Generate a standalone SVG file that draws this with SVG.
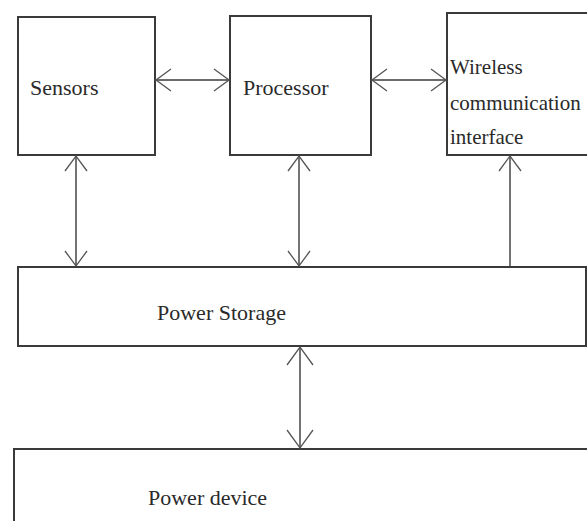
<svg xmlns="http://www.w3.org/2000/svg" width="587" height="521" viewBox="0 0 587 521">
<style>
.box{fill:#fff;stroke:#3a3a3a;stroke-width:2}
.lbl{font-family:"Liberation Serif","Times New Roman",serif;font-size:22px;fill:#2a2a2a}
.sm{font-size:21px}
.ln{fill:none;stroke:#3a3a3a;stroke-width:1.4}
</style>
<defs>
<marker id="a" markerUnits="userSpaceOnUse" markerWidth="40" markerHeight="40" viewBox="-20 -20 40 40" refX="0" refY="0" orient="auto-start-reverse">
<path d="M-15,-11 L0,0 L-15,11" fill="none" stroke="#555" stroke-width="1.3"/>
</marker>
<marker id="b" markerUnits="userSpaceOnUse" markerWidth="60" markerHeight="60" viewBox="-30 -30 60 60" refX="0" refY="0" orient="auto-start-reverse">
<path d="M-18,-13 L0,0 L-18,13" fill="none" stroke="#555" stroke-width="1.3"/>
</marker>
</defs>
<rect width="587" height="521" fill="#fff"/>
<g id="sensors"><rect class="box" x="18" y="17" width="137" height="138"/><text class="lbl" x="30" y="95">Sensors</text></g>
<g id="processor"><rect class="box" x="230" y="16" width="141" height="139"/><text class="lbl" x="243" y="95">Processor</text></g>
<g id="wireless"><rect class="box" x="447" y="13" width="145" height="142"/>
<text class="lbl sm" x="450" y="74">Wireless</text>
<text class="lbl sm" x="450" y="110">communication</text>
<text class="lbl sm" x="450" y="144">interface</text></g>
<g id="power-storage"><rect class="box" x="18" y="267" width="568" height="79"/><text class="lbl" x="157" y="320">Power Storage</text></g>
<g id="power-device"><rect class="box" x="14" y="449" width="580" height="80"/><text class="lbl" x="148" y="505">Power device</text></g>
<g id="connectors">
<line class="ln" x1="156" y1="80" x2="229" y2="80" marker-start="url(#a)" marker-end="url(#a)"/>
<line class="ln" x1="372" y1="80" x2="446" y2="80" marker-start="url(#a)" marker-end="url(#a)"/>
<line class="ln" x1="76" y1="156" x2="76" y2="266" marker-start="url(#a)" marker-end="url(#a)"/>
<line class="ln" x1="299" y1="156" x2="299" y2="266" marker-start="url(#a)" marker-end="url(#a)"/>
<line class="ln" x1="510" y1="267" x2="510" y2="156" marker-end="url(#a)"/>
<line class="ln" x1="300" y1="347" x2="300" y2="448" marker-start="url(#b)" marker-end="url(#b)"/>
</g>
</svg>
